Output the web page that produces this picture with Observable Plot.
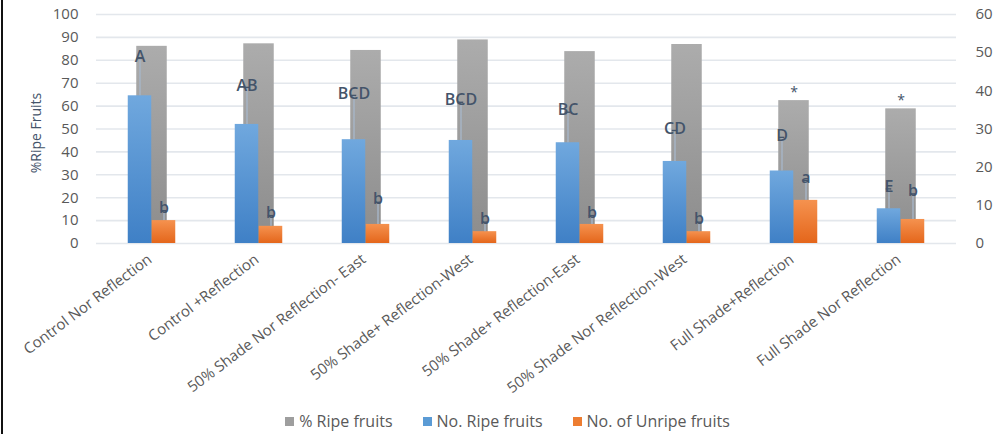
<!DOCTYPE html>
<html>
<head>
<meta charset="utf-8">
<script src="https://cdn.jsdelivr.net/npm/d3@7"></script>
<script src="https://cdn.jsdelivr.net/npm/@observablehq/plot@0.6"></script>
<style>
  html, body { margin: 0; padding: 0; background: #fff; }
  #wrap { position: relative; width: 1000px; height: 434px; overflow: hidden; font-family: "Open Sans", sans-serif; }
  #wrap::before { content: ""; position: absolute; left: 1px; top: 0; width: 2px; height: 434px; background: #111; z-index: 2; }
  #ytitle { position: absolute; left: 35px; top: 133px; transform: translate(-50%, -50%) rotate(-90deg); font-size: 14px; color: #44546a; white-space: nowrap; }
  #legend { position: absolute; left: 0; top: 409px; width: 1000px; height: 24px; display: flex; justify-content: center; align-items: center; gap: 30px; font-size: 16px; color: #595959; padding-left: 15px; box-sizing: border-box; }
  #legend span.sw { display: inline-block; width: 9px; height: 9px; margin-right: 5px; vertical-align: middle; position: relative; top: -1px; }
</style>
</head>
<body>
<div id="wrap">
  <div id="chart"></div>
  <div id="ytitle">%Ripe Fruits</div>
  <div id="legend"></div>
</div>
<script>
const categories = [
  "Control Nor Reflection",
  "Control +Reflection",
  "50% Shade Nor Reflection- East",
  "50% Shade+ Reflection-West",
  "50% Shade+ Reflection-East",
  "50% Shade Nor Reflection-West",
  "Full Shade+Reflection",
  "Full Shade Nor Reflection"
];
// % Ripe fruits (left axis, 0-100)
const ripePct = [86.1, 87.2, 84.3, 88.9, 83.8, 86.9, 62.4, 58.8];
const ripePctMarks = ["", "", "", "", "", "", "*", "*"];
// No. Ripe fruits (right axis, 0-60)
const ripeNo = [38.7, 31.2, 27.2, 27.0, 26.4, 21.5, 19.0, 9.1];
const ripeNoUpper = [48.5, 40.9, 38.8, 37.0, 34.4, 29.6, 27.8, 14.3];
const ripeLetters = ["A", "AB", "BCD", "BCD", "BC", "CD", "D", "E"];
// No. of Unripe fruits (right axis, 0-60)
const unripeNo = [6.0, 4.5, 5.0, 3.1, 5.0, 3.1, 11.3, 6.3];
const unripeNoUpper = [8.6, 7.3, 10.8, 5.6, 7.3, 5.6, 16.5, 13.0];
const unripeLetters = ["b", "b", "b", "b", "b", "b", "a", "b"];

const leftTicks = d3.range(0, 101, 10);
const rightTicks = [0, 10, 20, 30, 40, 50, 60];
const rightMax = 60;

const rows = categories.map((c, i) => ({
  cat: c,
  pct: ripePct[i],
  pctMark: ripePctMarks[i],
  ripe: ripeNo[i] / rightMax * 100,
  ripeUp: ripeNoUpper[i] / rightMax * 100,
  ripeLetter: ripeLetters[i],
  unripe: unripeNo[i] / rightMax * 100,
  unripeUp: unripeNoUpper[i] / rightMax * 100,
  unripeLetter: unripeLetters[i]
}));

const W = 1000, H = 400;
const mL = 96, mR = 44, mT = 14, mB = 157;
const band = (W - mL - mR) / categories.length;
const half = band / 2;
const grayW = 31, subW = 24;
const textColor = "#595959";
const letterColor = "#44546a";

const plot = Plot.plot({
  width: W,
  height: H,
  marginLeft: mL,
  marginRight: mR,
  marginTop: mT,
  marginBottom: mB,
  style: { fontFamily: "Open Sans, sans-serif", fontSize: "15px", color: textColor, background: "transparent" },
  x: { domain: categories, padding: 0, label: null },
  y: { domain: [0, 100], label: null },
  marks: [
    Plot.ruleY(leftTicks, { stroke: "#e3e7ec", strokeWidth: 1.6 }),
    Plot.axisY({ anchor: "left", ticks: leftTicks, tickSize: 0, tickPadding: 18, fontSize: 15, label: null, fill: textColor }),
    Plot.axisY({ anchor: "right", ticks: rightTicks.map(t => t / rightMax * 100), tickFormat: d => String(Math.round(d * rightMax / 100)), tickSize: 0, tickPadding: 19, fontSize: 15, label: null, fill: textColor }),
    Plot.axisX({ tickRotate: -37, tickSize: 0, tickPadding: 14, dx: -2, fontSize: 15, label: null, fill: textColor }),
    // gray bars
    Plot.barY(rows, { x: "cat", y: "pct", fill: "url(#gGray)", insetLeft: half - grayW / 2, insetRight: half - grayW / 2 }),
    Plot.text(rows, { x: "cat", y: "pct", text: "pctMark", dy: -8, fontSize: 14, fill: letterColor, lineAnchor: "middle" }),
    // blue bars
    Plot.barY(rows, { x: "cat", y: "ripe", fill: "url(#gBlue)", insetLeft: half - subW, insetRight: half }),
    // orange bars
    Plot.barY(rows, { x: "cat", y: "unripe", fill: "url(#gOrange)", insetLeft: half, insetRight: half - subW }),
    // error bars blue
    Plot.ruleX(rows, { x: "cat", y1: "ripe", y2: "ripeUp", dx: -subW / 2, stroke: "#a7b6c8", strokeWidth: 1.4 }),
    Plot.tickY(rows, { x: "cat", y: "ripeUp", insetLeft: half - subW / 2 - 3, insetRight: half + subW / 2 - 3, stroke: letterColor, strokeWidth: 1.4 }),
    Plot.text(rows, { x: "cat", y: "ripeUp", text: "ripeLetter", dx: -subW / 2, dy: -2, fontSize: 16, fontWeight: 600, fill: letterColor, lineAnchor: "middle" }),
    // error bars orange
    Plot.ruleX(rows, { x: "cat", y1: "unripe", y2: "unripeUp", dx: subW / 2, stroke: "#a7b6c8", strokeWidth: 1.4 }),
    Plot.tickY(rows, { x: "cat", y: "unripeUp", insetLeft: half + subW / 2 - 3, insetRight: half - subW / 2 - 3, stroke: letterColor, strokeWidth: 1.4 }),
    Plot.text(rows, { x: "cat", y: "unripeUp", text: "unripeLetter", dx: subW / 2, dy: -3, fontSize: 16, fontWeight: 600, fill: letterColor, lineAnchor: "middle" })
  ]
});

// gradients
const ns = "http://www.w3.org/2000/svg";
const defs = document.createElementNS(ns, "defs");
function grad(id, top, bottom) {
  const g = document.createElementNS(ns, "linearGradient");
  g.setAttribute("id", id);
  g.setAttribute("x1", "0"); g.setAttribute("y1", "0");
  g.setAttribute("x2", "0"); g.setAttribute("y2", "1");
  [[0, top], [1, bottom]].forEach(([o, c]) => {
    const s = document.createElementNS(ns, "stop");
    s.setAttribute("offset", o);
    s.setAttribute("stop-color", c);
    g.appendChild(s);
  });
  defs.appendChild(g);
}
grad("gGray", "#acacac", "#8c8c8c");
grad("gBlue", "#70a8de", "#3f80c6");
grad("gOrange", "#f5924f", "#e4661b");
plot.insertBefore(defs, plot.firstChild);

document.getElementById("chart").appendChild(plot);

const legendItems = [
  { label: "% Ripe fruits", color: "#9e9e9e" },
  { label: "No. Ripe fruits", color: "#5b9bd5" },
  { label: "No. of Unripe fruits", color: "#ed7d31" }
];
const lg = document.getElementById("legend");
legendItems.forEach(it => {
  const d = document.createElement("div");
  d.innerHTML = `<span class="sw" style="background:${it.color}"></span>${it.label}`;
  lg.appendChild(d);
});
</script>
</body>
</html>
